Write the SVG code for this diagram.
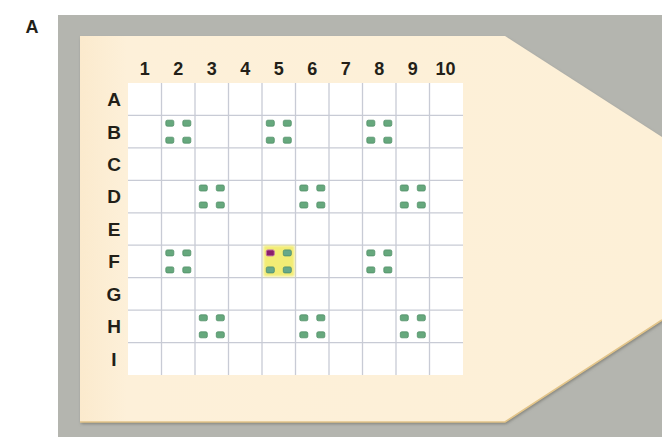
<svg xmlns="http://www.w3.org/2000/svg" xmlns:xlink="http://www.w3.org/1999/xlink" width="662" height="437" viewBox="0 0 662 437">
  <style>
    .lbl { font-family: "Liberation Sans", Arial, sans-serif; font-weight: bold; font-size: 18px; fill: #231f18; text-anchor: middle; }
    .row { font-size: 19px; }
    .grid line { stroke: #c8cbd5; stroke-width: 1.3; }
    .dot { fill: #66a87d; stroke: #528f68; stroke-width: 0.8; }
  </style>
  <defs>
    <filter id="sh" x="-5%" y="-5%" width="110%" height="115%">
      <feDropShadow dx="1" dy="2" stdDeviation="1.6" flood-color="#6e6e66" flood-opacity="0.7"/>
    </filter>
    <filter id="blur" x="-20%" y="-20%" width="140%" height="140%">
      <feGaussianBlur stdDeviation="1"/>
    </filter>
    <linearGradient id="plate" x1="0" y1="0" x2="1" y2="0">
      <stop offset="0" stop-color="#fbeacd"/>
      <stop offset="0.08" stop-color="#fdf0d9"/>
      <stop offset="1" stop-color="#fdf0d7"/>
    </linearGradient>
    <g id="cluster">
      <rect class="dot" x="-12.5" y="-11.5" width="8" height="6" rx="1.5"/>
      <rect class="dot" x="4.5" y="-11.5" width="8" height="6" rx="1.5"/>
      <rect class="dot" x="-12.5" y="5.5" width="8" height="6" rx="1.5"/>
      <rect class="dot" x="4.5" y="5.5" width="8" height="6" rx="1.5"/>
    </g>
  </defs>

  <rect width="662" height="437" fill="#ffffff"/>
  <text x="32" y="33" class="lbl">A</text>

  <g id="background">
    <rect x="58" y="15" width="604" height="422" fill="#b4b5af"/>
  </g>

  <g id="plate">
    <polygon points="80,36 505,36 662,137 662,320 505,422 80,422" fill="url(#plate)" filter="url(#sh)"/>
    <polyline points="80,422 505,422 662,320" fill="none" stroke="#e2c489" stroke-width="1.6"/>
  </g>

  <g id="grid" class="grid">
    <rect x="128" y="83" width="335" height="292" fill="#ffffff"/>
    <line x1="161.5" y1="83" x2="161.5" y2="375"/>
    <line x1="195" y1="83" x2="195" y2="375"/>
    <line x1="228.5" y1="83" x2="228.5" y2="375"/>
    <line x1="262" y1="83" x2="262" y2="375"/>
    <line x1="295.5" y1="83" x2="295.5" y2="375"/>
    <line x1="329" y1="83" x2="329" y2="375"/>
    <line x1="362.5" y1="83" x2="362.5" y2="375"/>
    <line x1="396" y1="83" x2="396" y2="375"/>
    <line x1="429.5" y1="83" x2="429.5" y2="375"/>
    <line x1="128" y1="115.4" x2="463" y2="115.4"/>
    <line x1="128" y1="147.9" x2="463" y2="147.9"/>
    <line x1="128" y1="180.3" x2="463" y2="180.3"/>
    <line x1="128" y1="212.8" x2="463" y2="212.8"/>
    <line x1="128" y1="245.2" x2="463" y2="245.2"/>
    <line x1="128" y1="277.7" x2="463" y2="277.7"/>
    <line x1="128" y1="310.1" x2="463" y2="310.1"/>
    <line x1="128" y1="342.6" x2="463" y2="342.6"/>
  </g>

  <g id="column-labels">
    <text class="lbl" x="144.8" y="75">1</text>
    <text class="lbl" x="178.3" y="75">2</text>
    <text class="lbl" x="211.8" y="75">3</text>
    <text class="lbl" x="245.3" y="75">4</text>
    <text class="lbl" x="278.8" y="75">5</text>
    <text class="lbl" x="312.3" y="75">6</text>
    <text class="lbl" x="345.8" y="75">7</text>
    <text class="lbl" x="379.3" y="75">8</text>
    <text class="lbl" x="412.8" y="75">9</text>
    <text class="lbl" x="445.5" y="75">10</text>
  </g>

  <g id="row-labels">
    <text class="lbl row" x="114" y="106">A</text>
    <text class="lbl row" x="114" y="138.5">B</text>
    <text class="lbl row" x="114" y="170.9">C</text>
    <text class="lbl row" x="114" y="203.3">D</text>
    <text class="lbl row" x="114" y="235.8">E</text>
    <text class="lbl row" x="114" y="268.2">F</text>
    <text class="lbl row" x="114" y="300.7">G</text>
    <text class="lbl row" x="114" y="333.1">H</text>
    <text class="lbl row" x="114" y="365.6">I</text>
  </g>

  <g id="clusters">
    <use id="B2" xlink:href="#cluster" href="#cluster" x="178.3" y="131.7"/>
    <use id="B5" xlink:href="#cluster" href="#cluster" x="278.8" y="131.7"/>
    <use id="B8" xlink:href="#cluster" href="#cluster" x="379.3" y="131.7"/>
    <use id="D3" xlink:href="#cluster" href="#cluster" x="211.8" y="196.5"/>
    <use id="D6" xlink:href="#cluster" href="#cluster" x="312.3" y="196.5"/>
    <use id="D9" xlink:href="#cluster" href="#cluster" x="412.8" y="196.5"/>
    <use id="F2" xlink:href="#cluster" href="#cluster" x="178.3" y="261.4"/>
    <use id="F8" xlink:href="#cluster" href="#cluster" x="379.3" y="261.4"/>
    <use id="H3" xlink:href="#cluster" href="#cluster" x="211.8" y="326.3"/>
    <use id="H6" xlink:href="#cluster" href="#cluster" x="312.3" y="326.3"/>
    <use id="H9" xlink:href="#cluster" href="#cluster" x="412.8" y="326.3"/>
  </g>

  <g id="F5">
    <rect x="263.5" y="245.5" width="31" height="31" fill="#f2ec74" filter="url(#blur)"/>
    <rect x="266.3" y="249.9" width="8" height="6" rx="1.5" fill="#8a1d6c" stroke="#c678a6" stroke-width="1"/>
    <rect x="283.3" y="249.9" width="8" height="6" rx="1.5" fill="#66a88a" stroke="#4d8d6e" stroke-width="0.8"/>
    <rect x="266.3" y="266.9" width="8" height="6" rx="1.5" fill="#66a88a" stroke="#4d8d6e" stroke-width="0.8"/>
    <rect x="283.3" y="266.9" width="8" height="6" rx="1.5" fill="#66a88a" stroke="#4d8d6e" stroke-width="0.8"/>
  </g>
</svg>
